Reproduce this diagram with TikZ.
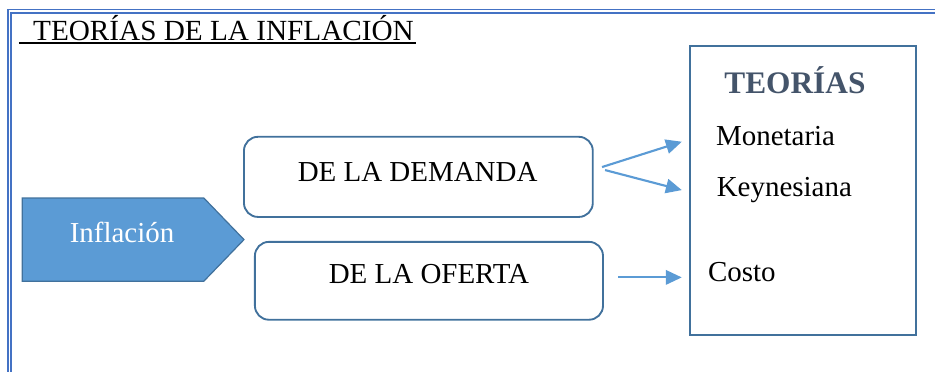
\documentclass[tikz,border=0pt]{standalone}
\usepackage{fontspec}
\setmainfont{Liberation Serif}
\usetikzlibrary{shapes.symbols,arrows.meta}
\definecolor{marco}{HTML}{4472C4}
\definecolor{azul}{HTML}{5B9BD5}
\definecolor{borde}{HTML}{41719C}
\definecolor{pizarra}{HTML}{44546A}
\tikzset{
    caja/.style={draw=borde, line width=1.4pt, rounded corners=0.37cm},
    texto/.style={font=\fontsize{21.8}{26}\selectfont, inner sep=0pt},
    flecha/.style={draw=azul, line width=1.6pt, -{Triangle[length=0.42cm,width=0.38cm]}}
}
\begin{document}
\begin{tikzpicture}
            \useasboundingbox (0,0) rectangle (24.74,-9.82);
            % marco doble
            \draw [marco, line width=1.3pt, double=white, double distance=1.4pt] (0.25,-9.9) -- (0.25,-0.30) -- (24.9,-0.30);
            % titulo
            \node [texto, anchor=base west] (titulo) at (0.87,-1.06) {\fontsize{22}{26}\selectfont TEORÍAS DE LA INFLACIÓN};
            \draw [line width=1.5pt] (0.50,-1.15) -- (11.01,-1.15);
            % flecha de inflacion
            \node [signal, signal to=east, signal pointer angle=92, fill=azul, draw=borde, line width=0.9pt,
                   minimum width=5.87cm, minimum height=2.20cm, inner sep=0pt] (infl) at (2.99,-6.34) {};
            \node [texto, text=white] (inflt) at (3.23,-6.16) {Inflación};
            % cajas
            \node [caja, minimum width=9.23cm, minimum height=2.12cm] (dem) at (11.07,-4.68) {};
            \node [texto] (demt) at (11.05,-4.54) {DE LA DEMANDA};
            \node [caja, minimum width=9.21cm, minimum height=2.06cm] (ofe) at (11.35,-7.43) {};
            \node [texto] (ofet) at (11.35,-7.24) {DE LA OFERTA};
            % teorias
            \draw [borde, line width=1.5pt] (18.26,-1.22) rectangle (24.24,-8.86);
            \node [texto, anchor=base west, font=\fontsize{23.6}{28}\selectfont\bfseries, text=pizarra] (teo) at (19.16,-2.47) {TEORÍAS};
            \node [texto, anchor=base west] (mon) at (18.94,-3.86) {Monetaria};
            \node [texto, anchor=base west] (key) at (18.96,-5.19) {Keynesiana};
            \node [texto, anchor=base west] (cos) at (18.73,-7.45) {Costo};
            % flechas
            \coordinate (d1) at (15.93,-4.42);
            \coordinate (d2) at (16.01,-4.50);
            \coordinate (o1) at (16.36,-7.34);
            \coordinate (m1) at (18.04,-3.75);
            \coordinate (k1) at (18.04,-5.03);
            \coordinate (c1) at (18.04,-7.34);
            \draw [flecha] (d1) -- (m1);
            \draw [flecha] (d2) -- (k1);
            \draw [flecha] (o1) -- (c1);
\end{tikzpicture}
\end{document}
